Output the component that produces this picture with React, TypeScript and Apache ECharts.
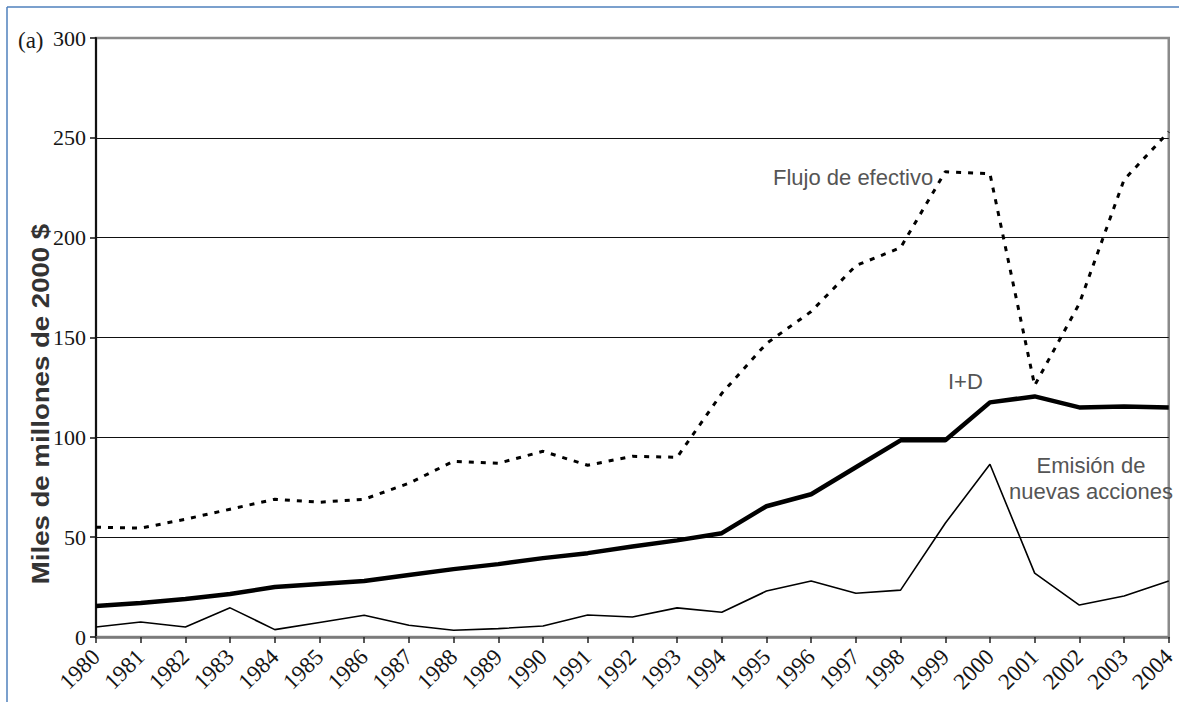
import React, { useEffect, useRef } from "react";
import * as echarts from "echarts";

const years = ["1980","1981","1982","1983","1984","1985","1986","1987","1988","1989","1990","1991","1992","1993","1994","1995","1996","1997","1998","1999","2000","2001","2002","2003","2004"];
const flujo = [55, 54.5, 59, 64, 69, 67.5, 69, 77, 88, 87, 93, 86, 90.5, 90, 122, 147, 163, 186, 195, 233, 232, 126, 167, 229, 253];
const iyd = [15.5, 17, 19, 21.5, 25, 26.5, 28, 31, 34, 36.5, 39.5, 42, 45.3, 48.4, 52, 65.5, 71.5, 85, 98.5, 98.5, 117.5, 120.5, 115, 115.5, 115];
const emision = [5, 7.5, 5, 14.6, 3.7, 7.3, 10.9, 5.9, 3.4, 4.2, 5.5, 11, 10, 14.6, 12.4, 23, 28, 21.9, 23.5, 57, 86.5, 32, 16, 20.5, 28];
const yTicks = { min: 0, max: 300, interval: 50 };

export default function App() {
  const ref = useRef<HTMLDivElement>(null);
  useEffect(() => {
    const chart = echarts.init(ref.current!, null, { renderer: "svg" });
    const serif = "'Liberation Serif', 'Times New Roman', serif";
    const sans = "'Liberation Sans', Arial, sans-serif";
    chart.setOption({
      animation: false,
      backgroundColor: "#fff",
      grid: { left: 96, right: 3, top: 38, bottom: 65, show: true, borderColor: "#8a8a8a", borderWidth: 2.5, containLabel: false },
      xAxis: {
        type: "category",
        data: years,
        boundaryGap: false,
        axisLine: { show: true, lineStyle: { color: "#7a7a7a", width: 2.5 } },
        axisTick: { show: true, inside: false, length: 6, alignWithLabel: true, lineStyle: { color: "#222", width: 1.5 } },
        axisLabel: { rotate: 45, margin: 16, fontFamily: serif, fontSize: 23, color: "#141414", interval: 0 },
        splitLine: { show: false },
      },
      yAxis: {
        type: "value",
        min: yTicks.min,
        max: yTicks.max,
        interval: yTicks.interval,
        axisLine: { show: true, lineStyle: { color: "#111", width: 2 } },
        axisTick: { show: true, length: 6, lineStyle: { color: "#111", width: 1.5 } },
        axisLabel: { margin: 10, fontFamily: serif, fontSize: 22, color: "#141414" },
        splitLine: { show: true, showMinLine: false, showMaxLine: false, lineStyle: { color: "#111", width: 1.2 } },
      },
      series: [
        {
          name: "Flujo de efectivo",
          type: "line",
          data: flujo,
          symbol: "none",
          lineStyle: { color: "#000", width: 3, type: [5, 7] },
          z: 3,
        },
        {
          name: "I+D",
          type: "line",
          data: iyd,
          symbol: "none",
          lineStyle: { color: "#000", width: 4.5 },
          z: 4,
        },
        {
          name: "Emisión de nuevas acciones",
          type: "line",
          data: emision,
          symbol: "none",
          lineStyle: { color: "#000", width: 1.6 },
          z: 4,
        },
      ],
      graphic: [
        { type: "line", shape: { x1: 7, y1: 7, x2: 1185, y2: 7 }, style: { stroke: "#4f81bd", lineWidth: 1.5 } },
        { type: "line", shape: { x1: 7, y1: 7, x2: 7, y2: 710 }, style: { stroke: "#4f81bd", lineWidth: 1.5 } },
        { type: "text", x: 18, y: 40, style: { text: "(a)", font: `23px ${serif}`, fill: "#1a1a1a", textVerticalAlign: "middle" } },
        { type: "text", x: 41, y: 404, rotation: Math.PI / 2, scaleX: 1.2, style: { text: "Miles de millones de 2000 $", font: `bold 23px ${sans}`, fill: "#333", textAlign: "center", textVerticalAlign: "middle" } },
        { type: "text", x: 773, y: 177, style: { text: "Flujo de efectivo", font: `22px ${sans}`, fill: "#555", textVerticalAlign: "middle" } },
        { type: "text", x: 948, y: 381, style: { text: "I+D", font: `22px ${sans}`, fill: "#555", textVerticalAlign: "middle" } },
        { type: "text", x: 1091, y: 465, style: { text: "Emisión de", font: `22px ${sans}`, fill: "#555", textAlign: "center", textVerticalAlign: "middle" } },
        { type: "text", x: 1091, y: 491, style: { text: "nuevas acciones", font: `22px ${sans}`, fill: "#555", textAlign: "center", textVerticalAlign: "middle" } },
      ],
    });
    return () => chart.dispose();
  }, []);
  return <div ref={ref} style={{ position: "fixed", left: 0, top: 0, width: 1179, height: 702 }} />;
}
